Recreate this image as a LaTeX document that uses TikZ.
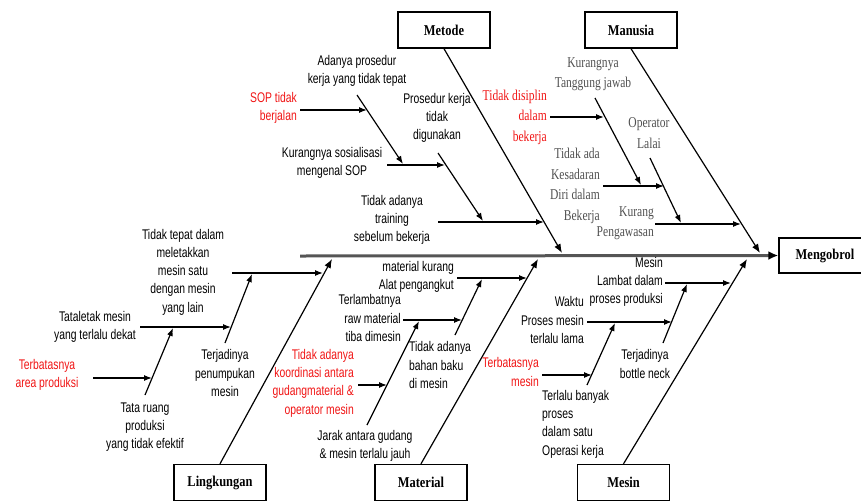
\documentclass[tikz,border=0pt]{standalone}
\usepackage{fontspec}
\usetikzlibrary{arrows.meta}
\newfontfamily\labfont[FakeStretch=0.74]{Liberation Sans}
\newfontfamily\manfont[FakeStretch=0.77]{Liberation Serif}
\newfontfamily\boxfont[FakeStretch=0.83]{Liberation Serif}
\definecolor{spinegray}{RGB}{85,85,85}
\definecolor{mangray}{RGB}{80,80,80}
\definecolor{labred}{RGB}{240,20,20}
\tikzset{
  lab/.style={inner sep=0pt, align=center, font=\labfont\fontsize{14}{18.3}\selectfont, text=black},
  labred/.style={lab, text=labred},
  manlab/.style={inner sep=0pt, align=center, font=\manfont\fontsize{15}{20.5}\selectfont, text=mangray},
  manred/.style={manlab, text=labred},
  catbox/.style={draw, line width=1.4pt, minimum width=92pt, minimum height=36pt, inner sep=0pt, font=\boxfont\bfseries\fontsize{15}{18}\selectfont},
  bone/.style={line width=1.2pt, -{Latex[length=8pt,width=6pt]}},
  mainbone/.style={line width=1.2pt, -{Latex[length=9pt,width=7pt]}},
  spineline/.style={line width=3pt, draw=spinegray, -{Latex[length=10pt,width=9pt,color=black,fill=black]}}
}
\begin{document}
\begin{tikzpicture}[x=1pt,y=-1pt]
\useasboundingbox (0,0) rectangle (861,501);
\clip (0,0) rectangle (861,501);
% category boxes
\node[catbox] (metode) at (444,30) {Metode};
\node[catbox] (manusia) at (631,30) {Manusia};
\node[catbox] (lingk) at (220,482.5) {Lingkungan};
\node[catbox] (material) at (421,482.5) {Material};
\node[catbox] (mesin) at (623.5,482.5) {Mesin};
\node[catbox, minimum width=92pt, minimum height=35pt] (effect) at (825,255.5) {Mengobrol};
% spine
\coordinate (tail) at (300,256);
\draw[spineline] (tail) -- (effect.west);
% main bones
\coordinate (mtE) at (562,253);
\coordinate (mnE) at (760,253);
\coordinate (lkE) at (332,259);
\coordinate (maE) at (538,259);
\coordinate (msE) at (747,259);
\draw[mainbone] (metode.south) -- (mtE);
\draw[mainbone] (manusia.south) -- (mnE);
\draw[mainbone] (lingk.north) -- (lkE);
\draw[mainbone] (material.north) -- (maE);
\draw[mainbone] (mesin.north) -- (msE);

% ---------- Metode ----------
\coordinate (a1s) at (357,95);  \coordinate (a1e) at (403,164);
\coordinate (a2s) at (300,110); \coordinate (a2e) at (367,110);
\coordinate (a3s) at (387,165); \coordinate (a3e) at (445,165);
\coordinate (a4s) at (438,153); \coordinate (a4e) at (483,221);
\coordinate (a5s) at (438,222); \coordinate (a5e) at (544,222);
\draw[bone] (a1s) -- (a1e);
\draw[bone] (a2s) -- (a2e);
\draw[bone] (a3s) -- (a3e);
\draw[bone] (a4s) -- (a4e);
\draw[bone] (a5s) -- (a5e);
\node[lab] (ta1) at (357,71) {Adanya prosedur\\kerja yang tidak tepat};
\node[labred, align=right, anchor=east] (ta2) at (297,108) {SOP tidak\\berjalan};
\node[lab] (ta3) at (332,163) {Kurangnya sosialisasi\\mengenal SOP};
\node[lab] (ta4) at (437,118) {Prosedur kerja\\tidak\\digunakan};
\node[lab] (ta5) at (392,220) {Tidak adanya\\training\\sebelum bekerja};

% ---------- Manusia ----------
\coordinate (b1s) at (595,98);  \coordinate (b1e) at (641,185);
\coordinate (b2s) at (550,117); \coordinate (b2e) at (604,117);
\coordinate (b3s) at (603,186); \coordinate (b3e) at (664,186);
\coordinate (b4s) at (650,158); \coordinate (b4e) at (681,223);
\coordinate (b5s) at (655,224); \coordinate (b5e) at (741,224);
\draw[bone] (b1s) -- (b1e);
\draw[bone] (b2s) -- (b2e);
\draw[bone] (b3s) -- (b3e);
\draw[bone] (b4s) -- (b4e);
\draw[bone] (b5s) -- (b5e);
\node[manlab] (tb1) at (593,74) {Kurangnya\\Tanggung jawab};
\node[manred, align=right, anchor=east] (tb2) at (547,117) {Tidak disiplin\\dalam\\bekerja};
\node[manlab, align=right, anchor=east] (tb3) at (600,186) {Tidak ada\\Kesadaran\\Diri dalam\\Bekerja};
\node[manlab] (tb4) at (649,133) {Operator\\Lalai};
\node[manlab, align=right, anchor=east] (tb5) at (654,223) {Kurang\\Pengawasan};

% ---------- Lingkungan ----------
\coordinate (c1s) at (232,273); \coordinate (c1e) at (323,273);
\coordinate (c2s) at (225,343); \coordinate (c2e) at (252,274);
\coordinate (c3s) at (140,327); \coordinate (c3e) at (231,327);
\coordinate (c4s) at (93,378);  \coordinate (c4e) at (152,378);
\coordinate (c5s) at (145,395); \coordinate (c5e) at (173,328);
\draw[bone] (c1s) -- (c1e);
\draw[bone] (c2s) -- (c2e);
\draw[bone] (c3s) -- (c3e);
\draw[bone] (c4s) -- (c4e);
\draw[bone] (c5s) -- (c5e);
\node[lab] (tc1) at (183,272) {Tidak tepat dalam\\meletakkan\\mesin satu\\dengan mesin\\yang lain};
\node[lab] (tc2) at (225,373) {Terjadinya\\penumpukan\\mesin};
\node[lab] (tc3) at (95,327) {Tataletak mesin\\yang terlalu dekat};
\node[labred] (tc4) at (47,375) {Terbatasnya\\area produksi};
\node[lab] (tc5) at (145,427) {Tata ruang\\produksi\\yang tidak efektif};

% ---------- Material ----------
\coordinate (d1s) at (457,278); \coordinate (d1e) at (527,278);
\coordinate (d2s) at (455,335); \coordinate (d2e) at (482,279);
\coordinate (d3s) at (403,320); \coordinate (d3e) at (462,320);
\coordinate (d4s) at (367,425); \coordinate (d4e) at (419,321);
\coordinate (d5s) at (358,385); \coordinate (d5e) at (387,385);
\draw[bone] (d1s) -- (d1e);
\draw[bone] (d2s) -- (d2e);
\draw[bone] (d3s) -- (d3e);
\draw[bone] (d4s) -- (d4e);
\draw[bone] (d5s) -- (d5e);
\node[lab, align=right, anchor=east] (td1) at (454,277) {material kurang\\Alat pengangkut};
\node[lab, align=right, anchor=east] (td3) at (401,318) {Terlambatnya\\raw material\\tiba dimesin};
\node[lab, align=left, anchor=west] (td2) at (409,365) {Tidak adanya\\ bahan baku\\di mesin};
\node[labred, align=right, anchor=east] (td5) at (354,383) {Tidak adanya\\koordinasi antara\\gudangmaterial \&\\operator mesin};
\node[lab] (td4) at (365,446) {Jarak antara gudang\\\& mesin terlalu jauh};

% ---------- Mesin ----------
\coordinate (e1s) at (665,283); \coordinate (e1e) at (731,283);
\coordinate (e2s) at (663,343); \coordinate (e2e) at (687,284);
\coordinate (e3s) at (587,322); \coordinate (e3e) at (672,322);
\coordinate (e4s) at (587,385); \coordinate (e4e) at (615,323);
\coordinate (e5s) at (542,375); \coordinate (e5e) at (592,375);
\draw[bone] (e1s) -- (e1e);
\draw[bone] (e2s) -- (e2e);
\draw[bone] (e3s) -- (e3e);
\draw[bone] (e4s) -- (e4e);
\draw[bone] (e5s) -- (e5e);
\node[lab, align=right, anchor=east] (te1) at (663,282) {Mesin\\Lambat dalam\\proses produksi};
\node[lab, align=right, anchor=east] (te3) at (584,320) {Waktu\\Proses mesin\\terlalu lama};
\node[lab] (te2) at (645,364) {Terjadinya\\bottle neck};
\node[labred, align=right, anchor=east] (te5) at (539,372) {Terbatasnya\\mesin};
\node[lab, align=left, anchor=west] (te4) at (542,424) {Terlalu banyak\\proses\\dalam satu\\Operasi kerja};
\end{tikzpicture}
\end{document}
